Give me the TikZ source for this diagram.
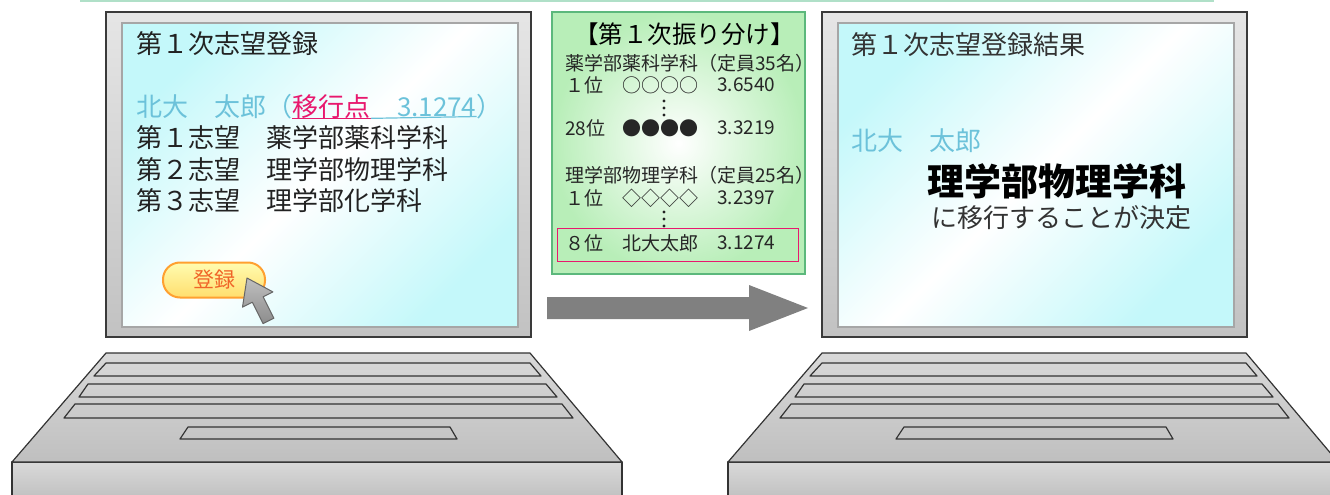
\documentclass[tikz,border=0pt]{standalone}
\usepackage{fontspec}
\setmainfont{Noto Sans CJK JP}
\usetikzlibrary{positioning}

\definecolor{ink}{RGB}{34,34,34}
\definecolor{namecol}{RGB}{108,194,218}
\definecolor{pointcol}{RGB}{232,24,110}
\definecolor{framecol}{RGB}{58,58,58}
\definecolor{screencol}{RGB}{196,248,250}
\definecolor{boxgreen}{RGB}{184,238,184}
\definecolor{boxline}{RGB}{92,184,124}
\definecolor{btnline}{RGB}{255,160,48}
\definecolor{btntop}{RGB}{255,252,176}
\definecolor{btnbottom}{RGB}{255,222,110}
\definecolor{btntext}{RGB}{240,100,40}
\definecolor{arrowgray}{RGB}{128,128,128}
\definecolor{topline}{RGB}{176,224,200}

\begin{document}
\begin{tikzpicture}[x=1pt, y=-1pt,
  txt/.style={inner sep=0pt, anchor=west, text=ink, font=\fontsize{26}{30}\selectfont},
  rowtxt/.style={txt, text=black!85, font=\fontsize{19}{22}\selectfont},
  monframe/.style={draw=framecol, line width=1.2pt, top color=black!10, bottom color=black!24},
  monscreen/.style={draw=black!35, line width=1.5pt, left color=screencol, right color=screencol, middle color=white, shading angle=45},
  kbd/.style={draw=black!80, line width=1.2pt, line join=round, top color=black!15, bottom color=black!25},
  kbdkey/.style={draw=black!80, line width=1.2pt, line join=round},
  btn/.style={draw=btnline, line width=2pt, rounded corners=17pt, minimum width=102pt, minimum height=35pt,
    top color=btntop, bottom color=btnbottom, text=btntext, font=\fontsize{21}{24}\selectfont},
  vdot/.style={circle, fill=ink, inner sep=0pt, minimum size=3.4pt}]
\useasboundingbox (0,0) rectangle (1330,495);

\draw[topline, line width=2pt] (80,1) -- (1214,1);

% the two laptops
\foreach \dx in {0,716} {
  \draw[monframe] (106+\dx,12) rectangle (531+\dx,337);
  \draw[monscreen] (122+\dx,23) rectangle (518+\dx,327);
  \draw[kbd] (12+\dx,462) rectangle (622+\dx,500);
  \draw[kbd] (106+\dx,353) -- (530+\dx,353) -- (622+\dx,462) -- (12+\dx,462) -- cycle;
  \draw[kbdkey] (106+\dx,363) -- (530+\dx,363) -- (541+\dx,376) -- (94+\dx,376) -- cycle;
  \draw[kbdkey] (88+\dx,384) -- (546+\dx,384) -- (557+\dx,397) -- (79+\dx,397) -- cycle;
  \draw[kbdkey] (75+\dx,404) -- (562+\dx,404) -- (573+\dx,418) -- (64+\dx,418) -- cycle;
  \draw[kbdkey] (188+\dx,427) -- (450+\dx,427) -- (457+\dx,439) -- (180+\dx,439) -- cycle;
}

% left screen
\node[txt] (h1) at (136,44) {第１次志望登録};
\node[txt, text=namecol, anchor=base west] (name) at (136,116) {北大　太郎（};
\node[txt, text=pointcol, anchor=base west] (pt) at (name.base east) {移行点};
\node[txt, text=namecol, anchor=base west] (score) at (pt.base east) {　3.1274};
\node[txt, text=namecol, anchor=base west] (close) at (score.base east) {）};
\draw[pointcol, line width=1.2pt] (pt.south west) -- (pt.south east);
\draw[namecol, line width=1.2pt] (pt.south east) -- (score.south east);
\node[txt, below=31.5pt of name.base west, anchor=base west] (c1) {第１志望　薬学部薬科学科};
\node[txt, below=31.5pt of c1.base west, anchor=base west] (c2) {第２志望　理学部物理学科};
\node[txt, below=31.5pt of c2.base west, anchor=base west] (c3) {第３志望　理学部化学科};

\node[btn] (reg) at (214,280) {登録};
\draw[draw=black!60, line width=1pt, line join=round, top color=black!25, bottom color=black!45]
  (247,278) -- (272.9,291.9) -- (263.1,296.8) -- (273.9,318.2) -- (263.1,323.6)
  -- (252.3,302.2) -- (242.5,307.1) -- cycle;

% allocation list
\draw[draw=boxline, line width=1.2pt, inner color=white, outer color=boxgreen] (552,12) rectangle (805,274);
\node[txt, text=black, font=\fontsize{24.5}{28}\selectfont] (title) at (574,34) {【第１次振り分け】};
\node[rowtxt] (dep1) at (565,63) {薬学部薬科学科（定員35名）};
\node[rowtxt] (r1) at (565,85) {１位};
\node[rowtxt] (m1) at (622,85) {○○○○};
\node[rowtxt] (s1) at (717,85) {3.6540};
\node[vdot] (d1) at (664,101) {};
\node[vdot] (d2) at (664,108) {};
\node[vdot] (d3) at (664,115) {};
\node[rowtxt] (r2) at (565,128) {28位};
\node[rowtxt] (m2) at (622,128) {●●●●};
\node[rowtxt] (s2) at (717,128) {3.3219};
\node[rowtxt] (dep2) at (565,175) {理学部物理学科（定員25名）};
\node[rowtxt] (r3) at (565,198) {１位};
\node[rowtxt] (m3) at (622,198) {◇◇◇◇};
\node[rowtxt] (s3) at (717,198) {3.2397};
\node[vdot] (d4) at (664,212) {};
\node[vdot] (d5) at (664,219) {};
\node[vdot] (d6) at (664,226) {};
\draw[pointcol, line width=1pt] (557,228) rectangle (798,261);
\node[rowtxt] (r4) at (565,243) {８位};
\node[rowtxt] (m4) at (622,243) {北大太郎};
\node[rowtxt] (s4) at (717,243) {3.1274};

\fill[arrowgray] (547,297) -- (749,297) -- (749,285) -- (808,308) -- (749,331) -- (749,319) -- (547,319) -- cycle;

% right screen
\node[txt, text=black!80] (h2) at (851,45) {第１次志望登録結果};
\node[txt, text=namecol] (name2) at (851,141) {北大　太郎};
\node[txt, text=black, font=\fontsize{37}{42}\selectfont\bfseries] (dept) at (927,181) {理学部物理学科};
\node[txt, text=black!80] (res) at (931,218) {に移行することが決定};
\end{tikzpicture}
\end{document}
